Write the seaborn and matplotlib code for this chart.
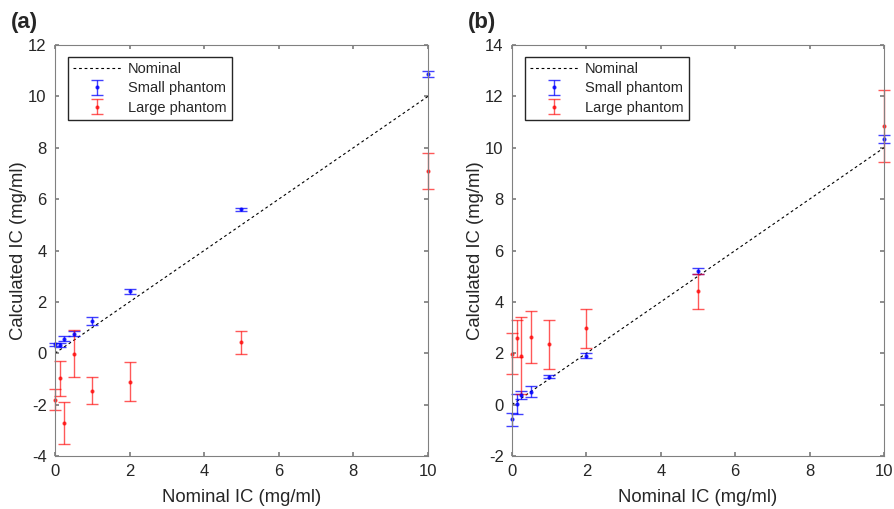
"""
Calculated vs nominal IC for small and large phantoms, panels (a) and (b).
"""
import matplotlib
import numpy as np
import pandas as pd
import seaborn as sns

matplotlib.use("Agg")
import matplotlib.pyplot as plt

# Nominal concentrations (mg/ml)
nominal = [0, 0.125, 0.25, 0.5, 1, 2, 5, 10]

# Panel (a)
a_small_mean = [0.35, 0.32, 0.57, 0.76, 1.25, 2.41, 5.60, 10.87]
a_small_err = [0.06, 0.06, 0.10, 0.10, 0.15, 0.10, 0.07, 0.10]
a_large_mean = [-1.81, -0.98, -2.71, -0.01, -1.46, -1.11, 0.43, 7.10]
a_large_err = [0.41, 0.69, 0.82, 0.91, 0.53, 0.76, 0.45, 0.71]

# Panel (b)
b_small_mean = [-0.57, 0.03, 0.37, 0.50, 1.09, 1.91, 5.20, 10.35]
b_small_err = [0.25, 0.38, 0.16, 0.22, 0.07, 0.10, 0.13, 0.15]
b_large_mean = [1.99, 2.58, 1.90, 2.63, 2.35, 2.97, 4.41, 10.84]
b_large_err = [0.80, 0.73, 1.50, 1.00, 0.96, 0.76, 0.69, 1.40]

BLUE = "#0000ff"
RED = "#ff0000"
SPINE = "#808080"


def configure_plot_style() -> None:
    sns.set_theme(style="white")
    plt.rcParams.update(
        {
            "font.family": ["Liberation Sans", "DejaVu Sans"],
            "font.size": 10,
            "axes.unicode_minus": False,
            "axes.edgecolor": SPINE,
            "axes.linewidth": 0.8,
            "xtick.direction": "in",
            "ytick.direction": "in",
            "xtick.color": SPINE,
            "ytick.color": SPINE,
            "xtick.labelcolor": "#262626",
            "ytick.labelcolor": "#262626",
            "xtick.major.size": 3,
            "ytick.major.size": 3,
            "xtick.labelsize": 12,
            "ytick.labelsize": 12,
        }
    )


def draw_panel(ax, small_mean, small_err, large_mean, large_err, ylim, label):
    line_df = pd.DataFrame({"x": [0, 10], "y": [0, 10]})
    sns.lineplot(data=line_df, x="x", y="y", ax=ax, color="black",
                 linestyle=(0, (2.5, 2.5)), linewidth=0.8, label="Nominal")
    for mean, err, col, name, alpha in (
        (small_mean, small_err, BLUE, "Small phantom", 0.75),
        (large_mean, large_err, RED, "Large phantom", 0.65),
    ):
        cont = ax.errorbar(nominal, mean, yerr=err, fmt="o", color=col,
                           markersize=2, elinewidth=1, capsize=4, capthick=1,
                           alpha=alpha, label=name)
        for artist in cont.lines[0:1] + tuple(cont.lines[1]) + tuple(cont.lines[2]):
            artist.set_clip_on(False)
    ax.set_xlim(0, 10)
    ax.set_ylim(*ylim)
    ax.set_xticks(np.arange(0, 11, 2))
    ax.set_yticks(np.arange(ylim[0], ylim[1] + 1, 2))
    ax.tick_params(top=True, right=True, bottom=True, left=True, pad=6)
    for s in ax.spines.values():
        s.set_visible(True)
    ax.set_xlabel("Nominal IC (mg/ml)", fontsize=13.3, color="#262626",
                  labelpad=7)
    ax.set_ylabel("Calculated IC (mg/ml)", fontsize=13.3, color="#262626",
                  labelpad=1)
    ax.legend(loc="upper left", bbox_to_anchor=(0.035, 0.971), fontsize=10.5,
              frameon=True, fancybox=False, edgecolor="#262626",
              framealpha=1, borderpad=0.35, labelspacing=0.37,
              handlelength=3.3, handletextpad=0.45, borderaxespad=0)
    ax.text(-0.118, 1.03, label, transform=ax.transAxes, fontsize=16,
            fontweight="bold", ha="left", va="bottom")


def main() -> None:
    configure_plot_style()
    fig = plt.figure(figsize=(8.94, 5.09), dpi=100)
    ax_a = fig.add_axes([0.0615, 0.1041, 0.4172, 0.8075])
    ax_b = fig.add_axes([0.5727, 0.1041, 0.4161, 0.8075])
    draw_panel(ax_a, a_small_mean, a_small_err, a_large_mean, a_large_err,
               (-4, 12), "(a)")
    draw_panel(ax_b, b_small_mean, b_small_err, b_large_mean, b_large_err,
               (-2, 14), "(b)")
    fig.savefig("out.png", dpi=100)
    plt.close(fig)


if __name__ == "__main__":
    main()
